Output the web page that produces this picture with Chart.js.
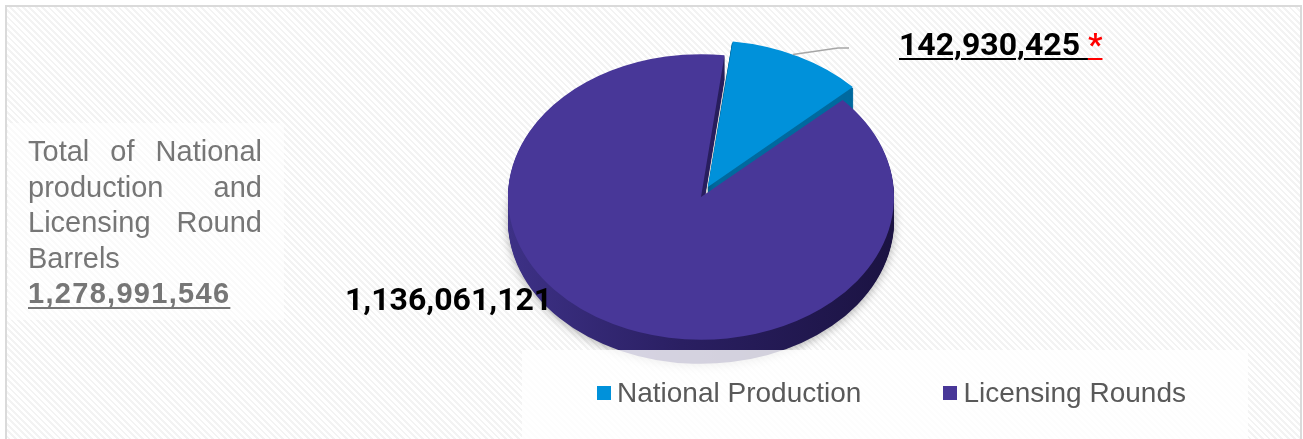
<!DOCTYPE html>
<html>
<head>
<meta charset="utf-8">
<script src="https://cdn.jsdelivr.net/npm/chart.js@4"></script>
<style>
  html, body { margin: 0; padding: 0; width: 1303px; height: 439px; overflow: hidden; background: #fff; }
  #frame {
    position: absolute; left: 5px; top: 5px; width: 1293px; height: 450px;
    border: 2px solid #dadada;
    background: repeating-linear-gradient(45deg, #f3f3f3 0 2px, #ffffff 2px 4.5px);
  }
  #chart { position: absolute; left: 0; top: 0; z-index: 1; }
  #totalBox {
    position: absolute; left: 8px; top: 123px; width: 276px; height: 197px;
    background: rgba(255,255,255,0.55); z-index: 0;
  }
  #totalText {
    position: absolute; left: 28px; top: 134px; width: 234px;
    font: 29px/35.5px "Liberation Sans", Arial, sans-serif; color: #767676;
    text-align: justify; z-index: 2;
  }
  #totalText b {
    display: block; text-align: left; letter-spacing: 1.3px;
    text-decoration: underline; text-decoration-thickness: 2px; text-underline-offset: 4px;
  }
  .val {
    position: absolute; z-index: 3; white-space: nowrap;
    font: bold 32px/32px Roboto, "Liberation Sans", sans-serif; color: #000;
  }
  .val span { text-decoration: underline; text-decoration-thickness: 2px; text-underline-offset: 3px; }
  #legendBox {
    position: absolute; left: 522px; top: 350px; width: 726px; height: 100px;
    background: rgba(255,255,255,0.8); z-index: 2;
  }
  #legend {
    position: absolute; left: 597px; top: 377px; height: 32px; z-index: 3;
    display: flex; align-items: center;
    font: 28px/32px "Liberation Sans", Arial, sans-serif; color: #595959;
  }
  #legend .item { display: flex; align-items: center; margin-right: 82px; }
  #legend .box { width: 14px; height: 14px; margin-right: 6px; }
</style>
</head>
<body>
<div id="frame"></div>
<div id="totalBox"></div>
<div id="totalText"></div>
<div id="legendBox"></div>
<div id="legend"></div>
<div class="val" id="lblNational" style="left:899px; top:28px;"></div>
<div class="val" id="lblRounds" style="left:345px; top:283px;"></div>
<canvas id="chart" width="1303" height="439"></canvas>

<script>
const labels = ['National Production', 'Licensing Rounds'];
const barrels = [142930425, 1136061121];
const topColors = ['#0091da', '#483798'];
const sideColors = ['#006a9f', '#2c2166'];

const tilt = 0.74;   // vertical squash of the pie top
const depth = 24;    // thickness of the pie wall in px

const fmt = n => n.toLocaleString('en-US');
const total = barrels.reduce((a, b) => a + b, 0);

document.getElementById('totalText').innerHTML =
  'Total of National production and Licensing Round Barrels<b>' + fmt(total) + '</b>';
document.getElementById('lblNational').innerHTML =
  '<span>' + fmt(barrels[0]) + '&nbsp;</span><span style="color:#ff0000">*</span>';
document.getElementById('lblRounds').textContent = fmt(barrels[1]);

document.getElementById('legend').innerHTML = labels.map((l, i) =>
  `<div class="item"><div class="box" style="background:${topColors[i]}"></div>${l}</div>`
).join('');

// squash around the pie centre so circles become ellipses
function squash(ctx, cx, cy) {
  ctx.translate(cx, cy);
  ctx.scale(1, tilt);
  ctx.translate(-cx, -cy);
}

// same wedge outline that ArcElement draws (incl. the exploded offset)
function wedge(ctx, arc) {
  const p = arc.getProps(['x', 'y', 'startAngle', 'endAngle', 'outerRadius'], true);
  const shift = (arc.options.offset || 0) / 4;
  const mid = (p.startAngle + p.endAngle) / 2;
  const span = p.endAngle - p.startAngle;
  const r = p.outerRadius + shift * (1 - Math.sin(Math.min(Math.PI, span)));
  const ox = p.x + Math.cos(mid) * shift;
  const oy = p.y + Math.sin(mid) * shift;
  ctx.beginPath();
  ctx.moveTo(ox, oy);
  ctx.arc(ox, oy, r, p.startAngle, p.endAngle);
  ctx.closePath();
  return { ox, oy, r, mid };
}

const pie3d = {
  id: 'pie3d',
  beforeDatasetsDraw(chart) {
    const ctx = chart.ctx;
    const arcs = chart.getDatasetMeta(0).data;
    const cx = arcs[0].x, cy = arcs[0].y, R = arcs[0].outerRadius;

    arcs.forEach((arc, i) => {
      let fill = sideColors[i];
      if (i === 1) {
        fill = ctx.createLinearGradient(cx - R, 0, cx + R, 0);
        fill.addColorStop(0, '#3d3186');
        fill.addColorStop(0.45, '#2a1f62');
        fill.addColorStop(1, '#1b1342');
      }
      for (let d = depth; d >= 1; d--) {
        ctx.save();
        ctx.translate(0, d);
        squash(ctx, cx, cy);
        if (d === depth) {
          ctx.shadowColor = 'rgba(0,0,0,0.3)';
          ctx.shadowBlur = 10;
          ctx.shadowOffsetY = 2;
        }
        ctx.fillStyle = fill;
        wedge(ctx, arc);
        ctx.fill();
        ctx.restore();
      }
    });

    ctx.save();
    squash(ctx, cx, cy);
  },
  afterDatasetsDraw(chart) {
    const ctx = chart.ctx;
    ctx.restore();

    // leader line from the National Production slice to its label
    const arcs = chart.getDatasetMeta(0).data;
    const cy = arcs[0].y;
    const w = wedge(ctx, arcs[0]);
    const a = w.mid - 0.03;
    const sx = w.ox + Math.cos(a) * w.r;
    const sy = cy + (w.oy + Math.sin(a) * w.r - cy) * tilt;
    ctx.save();
    ctx.beginPath();
    ctx.moveTo(sx, sy);
    ctx.lineTo(838, 48);
    ctx.lineTo(849, 48);
    ctx.strokeStyle = '#a6a6a6';
    ctx.lineWidth = 1.5;
    ctx.stroke();
    ctx.restore();
  }
};

new Chart(document.getElementById('chart'), {
  type: 'pie',
  data: {
    labels,
    datasets: [{
      data: barrels,
      backgroundColor: topColors,
      borderWidth: 0,
      offset: [60, 0],
      hoverOffset: 0,
      clip: false
    }]
  },
  options: {
    responsive: false,
    animation: false,
    rotation: 7,
    radius: 193,
    layout: { padding: { left: 300, right: 201, top: 0, bottom: 45 } },
    plugins: { legend: { display: false }, tooltip: { enabled: false } },
    events: []
  },
  plugins: [pie3d]
});
</script>
</body>
</html>
